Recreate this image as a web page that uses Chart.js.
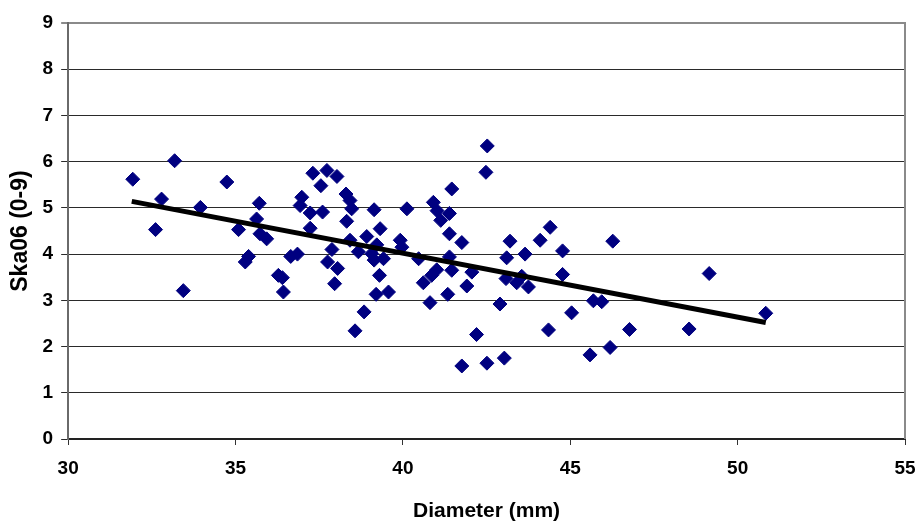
<!DOCTYPE html>
<html>
<head>
<meta charset="utf-8">
<script src="https://cdn.jsdelivr.net/npm/chart.js@4/dist/chart.umd.min.js"></script>
<style>
  html, body { margin: 0; padding: 0; background: #fff; }
  #wrap { width: 918px; height: 524px; }
</style>
</head>
<body>
<div id="wrap"><canvas id="c" width="918" height="524"></canvas></div>
<script>
// Diameter (mm) of each sample
const diameter = [
  31.93, 32.61, 32.79, 33.18, 33.44, 33.95, 34.74, 35.09, 35.29, 35.39,
  35.71, 35.63, 35.73, 35.93, 36.28, 36.40, 36.43, 36.65, 36.85, 36.93,
  36.98, 37.23, 37.23, 37.31, 37.55, 37.60, 37.73, 37.75, 37.88, 37.96,
  38.03, 38.05, 38.30, 38.32, 38.42, 38.42, 38.47, 38.57, 38.67, 38.84,
  38.92, 39.07, 39.14, 39.14, 39.20, 39.22, 39.30, 39.32, 39.42, 39.57,
  39.92, 39.97, 40.12, 40.47, 40.61, 40.81, 40.86, 40.91, 41.01, 41.02,
  41.13, 41.34, 41.39, 41.39, 41.39, 41.46, 41.46, 41.76, 41.76, 41.91,
  42.06, 42.20, 42.48, 42.51, 42.52, 42.90, 43.03, 43.08, 43.10, 43.20,
  43.40, 43.55, 43.65, 43.75, 44.10, 44.35, 44.40, 44.77, 44.77, 45.04,
  45.59, 45.69, 45.94, 46.19, 46.27, 46.77, 48.55, 49.15, 50.84
];
// Ska06 score (0-9) of each sample
const ska06 = [
  5.62, 4.53, 5.19, 6.02, 3.21, 5.01, 5.56, 4.53, 3.83, 3.95,
  5.10, 4.76, 4.44, 4.33, 3.54, 3.49, 3.18, 3.95, 4.00, 5.05,
  5.23, 4.89, 4.56, 5.75, 5.48, 4.91, 5.81, 3.83, 4.10, 3.36,
  5.68, 3.69, 5.30, 4.71, 5.16, 4.30, 4.98, 2.34, 4.05, 2.75,
  4.38, 4.01, 4.96, 3.87, 3.13, 4.20, 3.54, 4.55, 3.90, 3.18,
  4.30, 4.15, 4.98, 3.90, 3.38, 2.95, 3.54, 5.12, 3.66, 4.94,
  4.73, 3.13, 4.88, 4.44, 3.94, 5.41, 3.65, 4.25, 1.58, 3.31,
  3.61, 2.26, 5.77, 1.64, 6.34, 2.92, 1.75, 3.47, 3.92, 4.28,
  3.38, 3.52, 4.00, 3.29, 4.30, 2.36, 4.58, 4.07, 3.56, 2.73,
  1.82, 2.99, 2.97, 1.98, 4.28, 2.37, 2.38, 3.58, 2.72
];
// Linear trend line end points
const trendX = [31.9, 50.84];
const trendY = [5.14, 2.52];
// Axis ticks
const xTicks = [30, 35, 40, 45, 50, 55];
const yTicks = [0, 1, 2, 3, 4, 5, 6, 7, 8, 9];

const FONT = '"Liberation Sans", Arial, Helvetica, sans-serif';

const scatterData = diameter.map((d, i) => ({ x: d, y: ska06[i] }));
const trendData = trendX.map((d, i) => ({ x: d, y: trendY[i] }));

const frame = {
  id: 'frame',
  beforeDatasetsDraw(chart) {
    const { ctx, chartArea: a } = chart;
    ctx.save();
    ctx.strokeStyle = '#8a8a8a';
    ctx.lineWidth = 2;
    ctx.beginPath();
    ctx.moveTo(a.right, a.top - 1);
    ctx.lineTo(a.right, a.bottom);
    ctx.stroke();
    ctx.restore();
  }
};

new Chart(document.getElementById('c'), {
  type: 'scatter',
  data: {
    datasets: [
      {
        type: 'line',
        label: 'Trend',
        data: trendData,
        borderColor: '#000',
        borderWidth: 5,
        pointRadius: 0,
        fill: false,
        order: 0
      },
      {
        label: 'Ska06',
        data: scatterData,
        pointStyle: 'rectRot',
        pointRadius: 7,
        pointBackgroundColor: '#000080',
        pointBorderColor: '#000080',
        pointBorderWidth: 1,
        order: 1
      }
    ]
  },
  plugins: [frame],
  options: {
    responsive: false,
    devicePixelRatio: 1,
    animation: false,
    layout: { padding: { left: 0, right: 0, top: 23, bottom: 0 } },
    plugins: { legend: { display: false }, tooltip: { enabled: false } },
    scales: {
      x: {
        type: 'linear',
        min: xTicks[0],
        max: xTicks[xTicks.length - 1],
        afterBuildTicks: s => { s.ticks = xTicks.map(v => ({ value: v })); },
        afterFit: s => { s.paddingRight = 13; s.paddingLeft = 11; },
        ticks: { color: '#000', font: { family: FONT, size: 19, weight: 'bold' }, padding: 12, maxRotation: 0 },
        grid: { drawOnChartArea: false, drawTicks: true, tickLength: 6, color: '#333', lineWidth: 1 },
        border: { display: true, color: '#222', width: 2 },
        title: { display: true, text: 'Diameter (mm)', color: '#000', font: { family: FONT, size: 21, weight: 'bold' }, padding: { top: 7, bottom: 0 } }
      },
      y: {
        min: yTicks[0],
        max: yTicks[yTicks.length - 1],
        afterBuildTicks: s => { s.ticks = yTicks.map(v => ({ value: v })); },
        ticks: { color: '#000', font: { family: FONT, size: 19, weight: 'bold' }, padding: 8 },
        grid: {
          drawTicks: true,
          tickLength: 7,
          color: c => (c.tick && c.tick.value === 9) ? '#8a8a8a' : '#2a2a2a',
          lineWidth: c => (c.tick && c.tick.value === 9) ? 2 : 1
        },
        border: { display: true, color: '#6a6a6a', width: 2 },
        title: { display: true, text: 'Ska06 (0-9)', color: '#000', font: { family: FONT, size: 23, weight: 'bold' }, padding: { top: 7, bottom: 0 } }
      }
    }
  }
});
</script>
</body>
</html>
